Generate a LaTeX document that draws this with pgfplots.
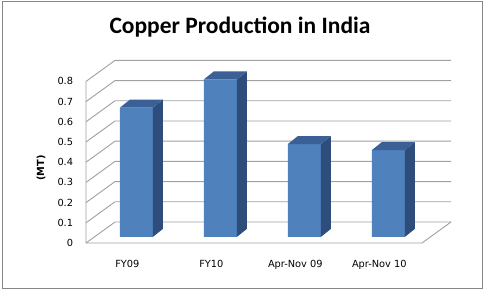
\documentclass[border=0pt]{standalone}
\usepackage{pgfplots}
\pgfplotsset{compat=1.18}
\usepackage{fontspec}
\setmainfont{DejaVu Sans}
\newfontfamily\titlefont{Carlito}
\definecolor{barfront}{HTML}{4F81BD}
\definecolor{barside}{HTML}{2E4D7B}
\definecolor{bartop}{HTML}{3B6096}
\definecolor{gridc}{HTML}{A0A0A0}
\definecolor{framec}{HTML}{868686}
\begin{document}
\begin{tikzpicture}[x=1pt,y=1pt]
\useasboundingbox (0,0) rectangle (483,291);
\fill[white] (0,0) rectangle (483,291);
\draw[framec, line width=1pt] (2,2) rectangle (482,289.3);
\node[font=\titlefont\bfseries\fontsize{23.5}{28}\selectfont] at (240,264) {Copper Production in India};
\node[rotate=90, font=\bfseries\fontsize{9.8}{11}\selectfont] at (41,123) {(MT)};
\begin{axis}[
  at={(94.3pt,54pt)}, anchor=south west,
  scale only axis, width=336pt, height=161.6pt,
  xmin=-0.5, xmax=3.5, ymin=0, ymax=0.8,
  clip=false, no markers,
  axis line style={draw=none},
  major tick length=0pt,
  xtick={0,1,2,3},
  xticklabels={FY09,FY10,Apr-Nov 09,Apr-Nov 10},
  ytick={0,0.1,0.2,0.3,0.4,0.5,0.6,0.7,0.8},
  /pgf/number format/assume math mode=true,
  /pgf/number format/fixed,
  ticklabel style={font=\fontsize{9.8}{11}\selectfont, inner sep=0pt},
  yticklabel style={anchor=base east, xshift=-21pt, yshift=-9.6pt},
  xticklabel style={anchor=base, xshift=-9pt, yshift=-30.8pt},
]
\pgfplotsinvokeforeach{0,0.1,0.2,0.3,0.4,0.5,0.6,0.7,0.8}{
  \draw[gridc, line width=0.9pt] ([xshift=-8.3pt,yshift=-6pt]axis cs:-0.5,#1) -- ([xshift=20.7pt,yshift=15pt]axis cs:-0.5,#1) -- ([xshift=20.7pt,yshift=15pt]axis cs:3.5,#1);
}
\draw[gridc, line width=0.9pt] ([xshift=-8.3pt,yshift=-6pt]axis cs:-0.5,0.8) -- ([xshift=-8.3pt,yshift=-6pt]axis cs:-0.5,0) -- ([xshift=-8.3pt,yshift=-6pt]axis cs:3.5,0) -- ([xshift=20.7pt,yshift=15pt]axis cs:3.5,0);

\addplot[ybar, bar width=33pt, fill=barfront, draw=none] coordinates {(0,0.64) (1,0.78) (2,0.46) (3,0.43)};

% side faces
\addplot[fill=barside, draw=none, forget plot] coordinates {(0.1964,0) (0.1964,0.64) (0.3155,0.6796) (0.3155,0.0396)} -- cycle;
\addplot[fill=barside, draw=none, forget plot] coordinates {(1.1964,0) (1.1964,0.78) (1.3155,0.8196) (1.3155,0.0396)} -- cycle;
\addplot[fill=barside, draw=none, forget plot] coordinates {(2.1964,0) (2.1964,0.46) (2.3155,0.4996) (2.3155,0.0396)} -- cycle;
\addplot[fill=barside, draw=none, forget plot] coordinates {(3.1964,0) (3.1964,0.43) (3.3155,0.4696) (3.3155,0.0396)} -- cycle;
% top faces
\addplot[fill=bartop, draw=none, forget plot] coordinates {(-0.1964,0.64) (0.1964,0.64) (0.3155,0.6796) (-0.0774,0.6796)} -- cycle;
\addplot[fill=bartop, draw=none, forget plot] coordinates {(0.8036,0.78) (1.1964,0.78) (1.3155,0.8196) (0.9226,0.8196)} -- cycle;
\addplot[fill=bartop, draw=none, forget plot] coordinates {(1.8036,0.46) (2.1964,0.46) (2.3155,0.4996) (1.9226,0.4996)} -- cycle;
\addplot[fill=bartop, draw=none, forget plot] coordinates {(2.8036,0.43) (3.1964,0.43) (3.3155,0.4696) (2.9226,0.4696)} -- cycle;
\end{axis}
\end{tikzpicture}
\end{document}
